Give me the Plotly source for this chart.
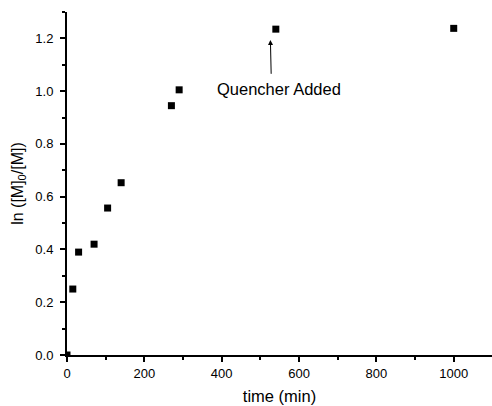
import plotly.graph_objects as go

time_min = [0, 15, 30, 70, 105, 140, 270, 290, 540, 1000]
ln_ratio = [0.0, 0.25, 0.39, 0.42, 0.557, 0.653, 0.945, 1.005, 1.235, 1.238]

x_ticks = [0, 200, 400, 600, 800, 1000]
y_ticks = [0.0, 0.2, 0.4, 0.6, 0.8, 1.0, 1.2]

fig = go.Figure()
fig.add_trace(go.Scatter(
    x=time_min, y=ln_ratio, mode="markers",
    marker=dict(symbol="square", size=7, color="black"),
    cliponaxis=True, showlegend=False,
))

font_family = "Liberation Sans, Arial, sans-serif"

fig.add_annotation(
    x=526, y=1.194, ax=528, ay=1.06, xref="x", yref="y", axref="x", ayref="y",
    text="", showarrow=True, arrowhead=2, arrowsize=1, arrowwidth=1, arrowcolor="black",
)
fig.add_annotation(
    x=547, y=1.01, xref="x", yref="y", text="Quencher Added", showarrow=False,
    font=dict(family=font_family, size=16.5, color="black"),
)

fig.update_layout(
    width=492, height=406,
    margin=dict(l=67, r=0, t=12, b=51),
    paper_bgcolor="white", plot_bgcolor="white",
    font=dict(family=font_family, size=13, color="black"),
)
fig.update_xaxes(
    range=[0, 1099], tickvals=x_ticks, ticks="outside", ticklen=5, tickwidth=1.5,
    tickcolor="black", showline=True, linecolor="black", linewidth=2,
    showgrid=False, zeroline=False,
    minor=dict(dtick=100, tick0=0, ticks="outside", ticklen=3, tickwidth=1.5, tickcolor="black", showgrid=False),
    title=dict(text="time (min)", font=dict(size=16.5), standoff=11),
)
fig.update_yaxes(
    range=[0, 1.3], tickvals=y_ticks, tickformat=".1f", ticks="outside", ticklen=5, tickwidth=1.5,
    tickcolor="black", showline=True, linecolor="black", linewidth=2,
    showgrid=False, zeroline=False, ticklabelstandoff=4,
    minor=dict(dtick=0.1, tick0=0, ticks="outside", ticklen=3, tickwidth=1.5, tickcolor="black", showgrid=False),
    title=dict(text="ln ([M]<sub>0</sub>/[M])", font=dict(size=16), standoff=8),
)

fig.write_html("out.html")
